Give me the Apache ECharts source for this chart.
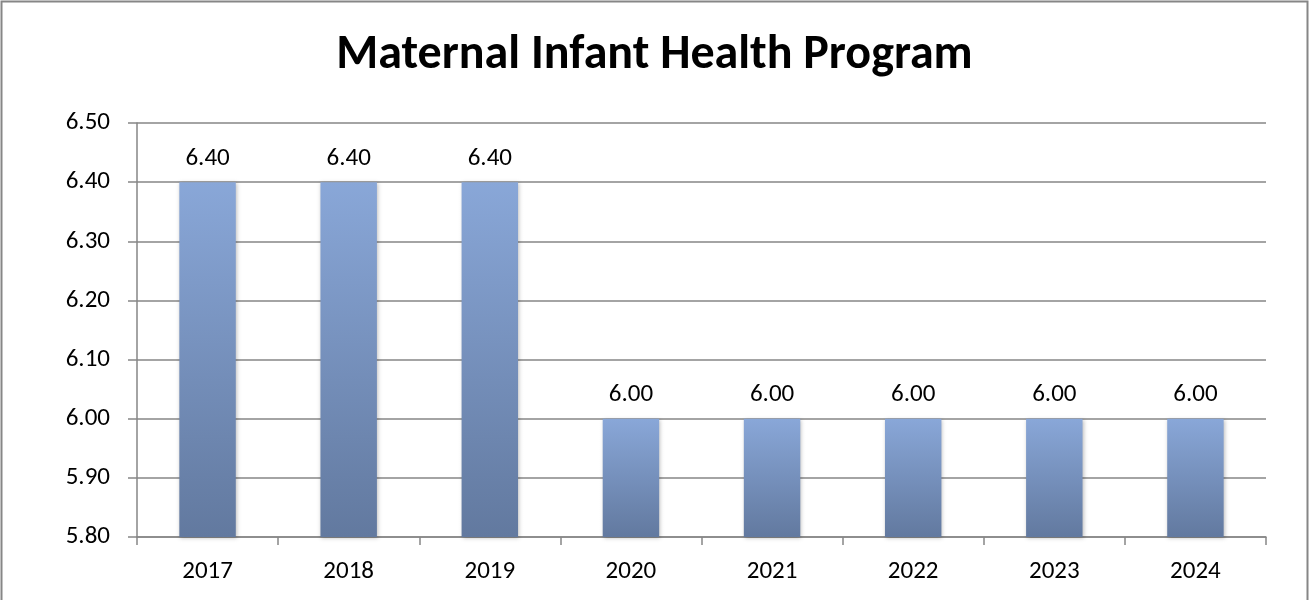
<!DOCTYPE html>
<html>
<head>
<meta charset="utf-8">
<script src="https://cdn.jsdelivr.net/npm/echarts@6/dist/echarts.min.js"></script>
<style>
  html, body { margin: 0; padding: 0; background: #fff; }
  #chart { width: 1309px; height: 600px; }
</style>
</head>
<body>
<div id="chart"></div>
<script>
const years = ['2017', '2018', '2019', '2020', '2021', '2022', '2023', '2024']
const values = [6.4, 6.4, 6.4, 6.0, 6.0, 6.0, 6.0, 6.0]
const yMin = 5.8
const yMax = 6.5
const yStep = 0.1

const chart = echarts.init(document.getElementById('chart'))

const font = 'Carlito, "Open Sans", "Liberation Sans", sans-serif'

chart.setOption({
  animation: false,
  backgroundColor: '#fff',
  title: {
    text: 'Maternal Infant Health Program',
    left: 'center',
    top: 27,
    textStyle: { fontFamily: font, fontSize: 48, fontWeight: 'bold', color: '#000' }
  },
  graphic: [{
    type: 'rect',
    shape: { x: 1.5, y: 1.5, width: 1306, height: 610 },
    style: { fill: 'none', stroke: '#868686', lineWidth: 2 },
    silent: true
  }],
  grid: { left: 137, right: 43, top: 123, bottom: 63 },
  xAxis: {
    type: 'category',
    data: years,
    axisLine: { lineStyle: { color: '#868686', width: 1.5 } },
    axisTick: { show: true, length: 8, lineStyle: { color: '#868686', width: 1.5 } },
    axisLabel: { color: '#000', fontFamily: font, fontSize: 25, margin: 22 }
  },
  yAxis: {
    type: 'value',
    min: yMin,
    max: yMax,
    interval: yStep,
    axisLine: { show: true, lineStyle: { color: '#868686', width: 1.5 } },
    axisTick: { show: true, length: 9, lineStyle: { color: '#868686', width: 1.5 } },
    axisLabel: { color: '#000', fontFamily: font, fontSize: 25, margin: 27, formatter: v => v.toFixed(2) },
    splitLine: { lineStyle: { color: '#868686', width: 1.5 } }
  },
  series: [{
    type: 'bar',
    data: values,
    barWidth: '40%',
    itemStyle: {
      color: new echarts.graphic.LinearGradient(0, 0, 0, 1, [
        { offset: 0, color: '#89a7d8' },
        { offset: 1, color: '#62799f' }
      ]),
      shadowColor: 'rgba(0,0,0,0.25)',
      shadowBlur: 4,
      shadowOffsetX: 1,
      shadowOffsetY: 1
    },
    label: {
      show: true,
      position: 'top',
      distance: 11,
      color: '#000',
      fontFamily: font,
      fontSize: 25,
      formatter: p => p.value.toFixed(2)
    }
  }]
})
</script>
</body>
</html>
